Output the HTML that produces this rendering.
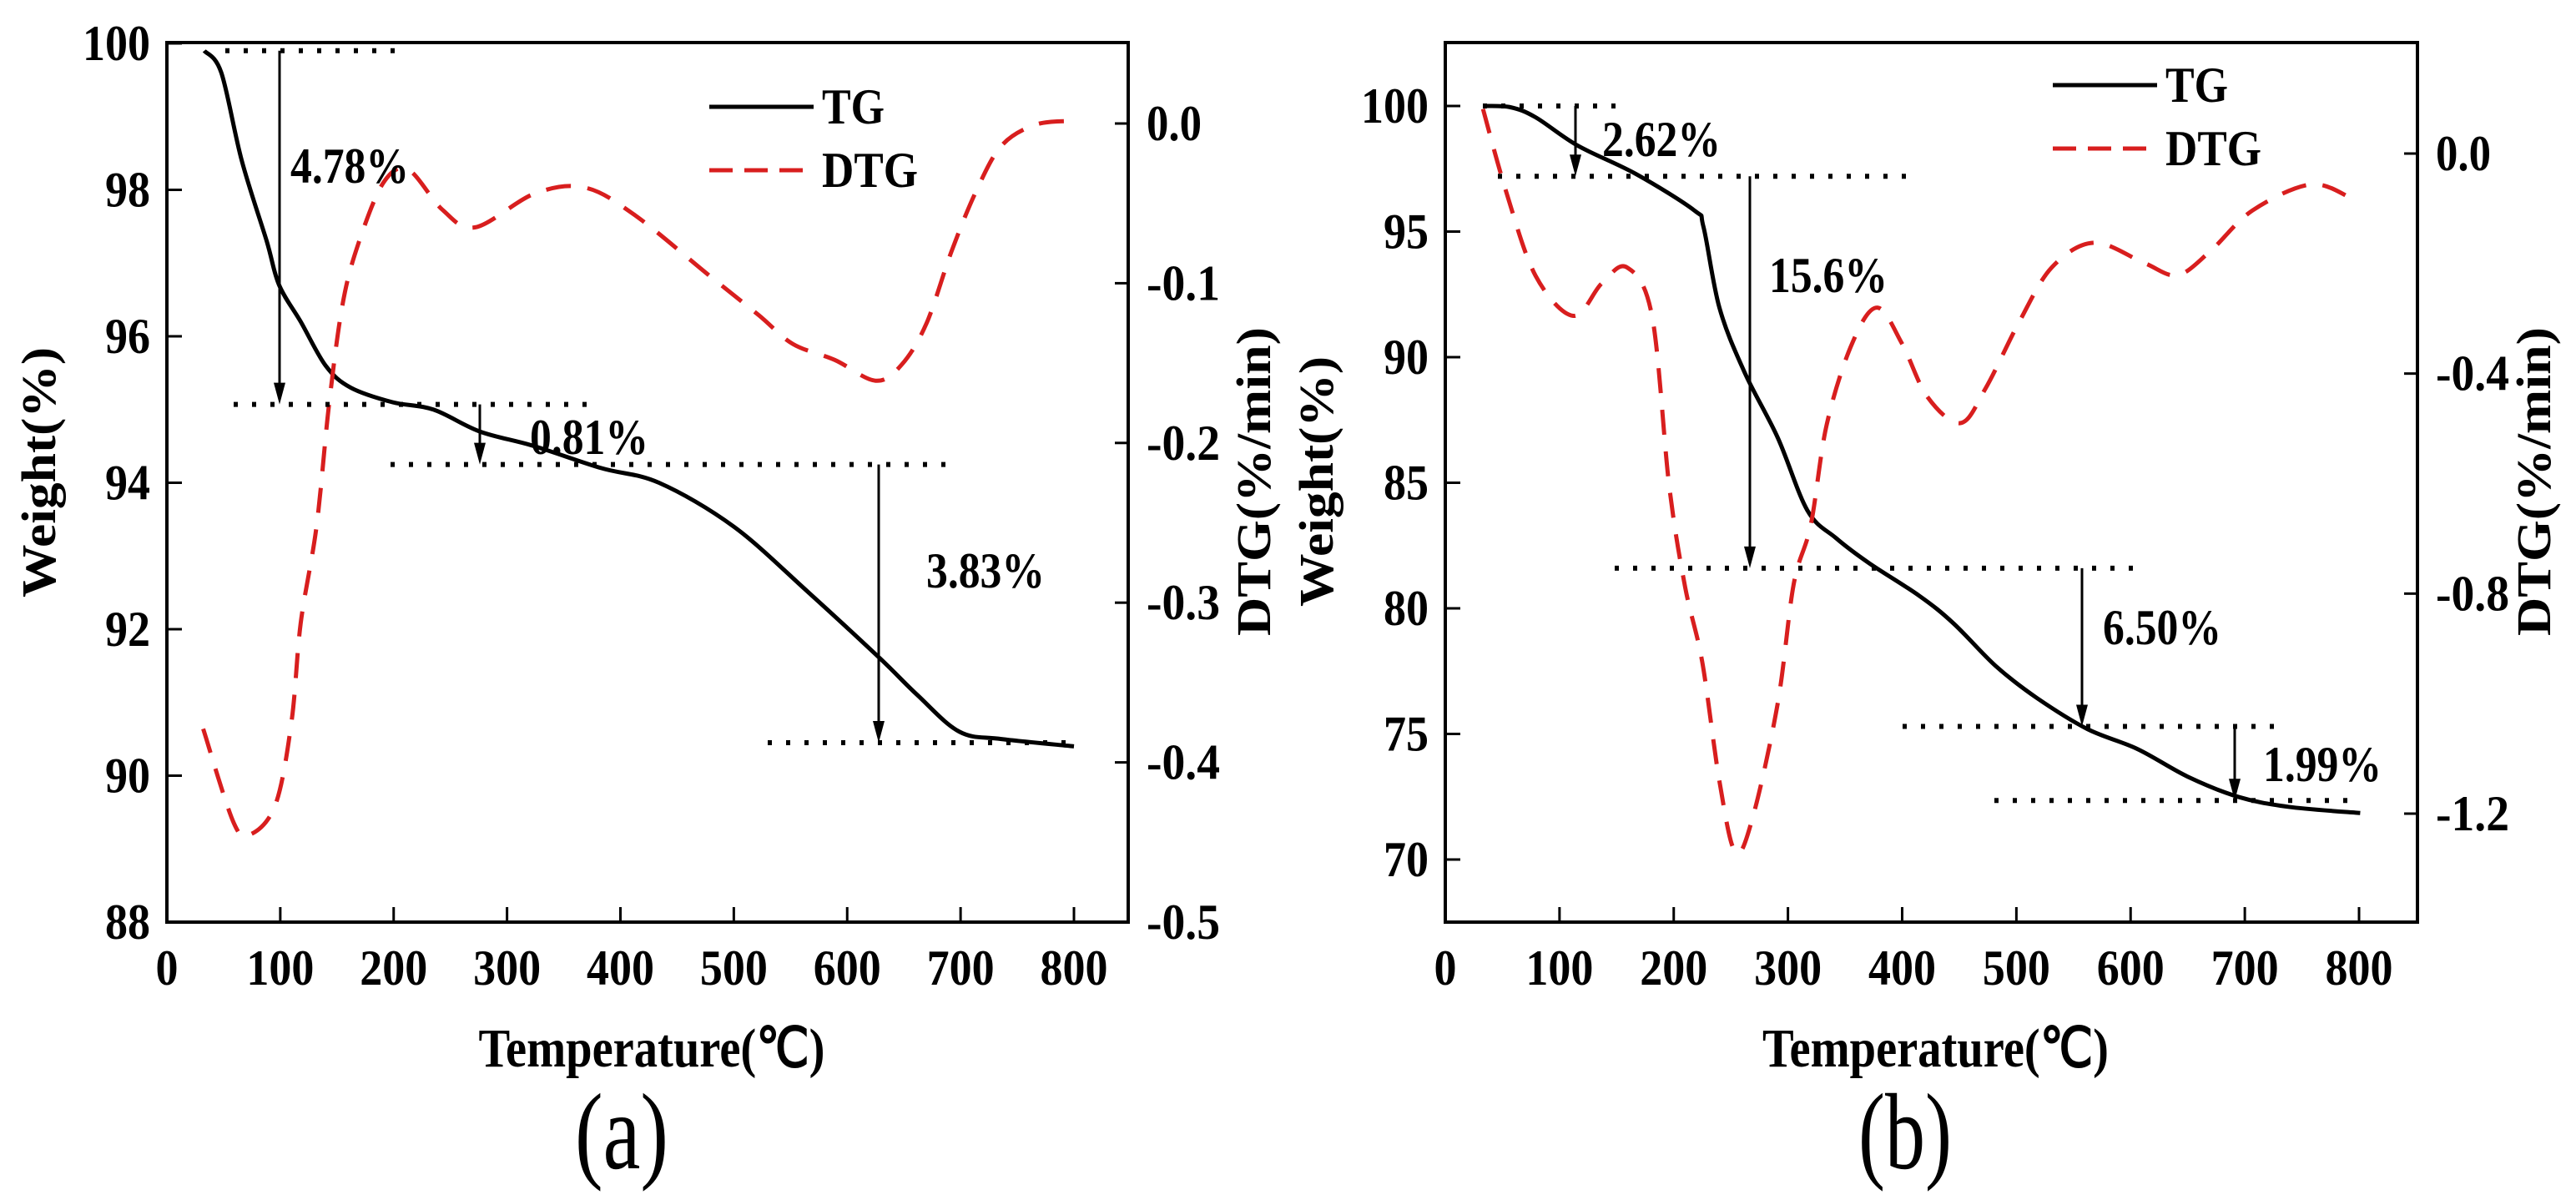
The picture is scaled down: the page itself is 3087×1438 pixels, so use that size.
<!DOCTYPE html>
<html><head><meta charset="utf-8"><style>
html,body{margin:0;padding:0;background:#fff;}
svg{display:block;}
text{font-family:"Liberation Serif",serif;}
</style></head><body>
<svg id="chart" width="3087" height="1438" viewBox="0 0 3087 1438" xmlns="http://www.w3.org/2000/svg"></svg>
<script>
// ---- Panel (a) data ----
const aTgT = [33,48,66,88,99,118,140,162,199,235,276,324,383,434,500,566,629,662,699,736,800];
const aTgW = [99.9,99.6,98.4,97.3,96.7,96.2,95.6,95.3,95.1,95.0,94.7,94.5,94.2,94.0,93.4,92.5,91.6,91.1,90.6,90.5,90.4];
const aDtgT = [32,59,74,96,110,118,132,143,155,169,191,213,243,272,324,368,412,478,522,552,589,625,648,670,692,714,736,765,795,802];
const aDtgV = [-0.379,-0.438,-0.445,-0.426,-0.374,-0.313,-0.252,-0.176,-0.113,-0.075,-0.037,-0.029,-0.054,-0.065,-0.044,-0.040,-0.057,-0.095,-0.120,-0.138,-0.148,-0.161,-0.151,-0.125,-0.080,-0.042,-0.014,-0.001,0.0015,0.0];
const aLeftTicks = [88,90,92,94,96,98,100];
const aRightTicks = [0.0,-0.1,-0.2,-0.3,-0.4,-0.5];
const aRightLabels = ["0.0","-0.1","-0.2","-0.3","-0.4","-0.5"];
const aLevels = [99.9,95.07,94.25,90.45];
const aLabels = ["4.78%","0.81%","3.83%"];
// ---- Panel (b) data ----
const bTgT = [33,57,79,116,167,218,226,240,262,291,317,342,371,415,445,482,518,562,606,650,694,738,801];
const bTgW = [100,99.95,99.55,98.42,97.29,95.84,95.2,91.97,89.4,86.8,83.9,82.8,81.8,80.5,79.4,77.7,76.43,75.2,74.4,73.3,72.5,72.1,71.85];
const bDtgT = [33,53,79,112,137,159,181,196,210,225,240,254,269,291,305,320,334,356,378,400,422,451,473,502,531,568,612,641,670,707,758,794];
const bDtgV = [0.081,-0.067,-0.222,-0.295,-0.236,-0.207,-0.295,-0.604,-0.788,-0.925,-1.141,-1.27,-1.208,-1.0,-0.783,-0.675,-0.492,-0.346,-0.28,-0.346,-0.442,-0.49,-0.427,-0.308,-0.207,-0.162,-0.199,-0.221,-0.177,-0.103,-0.056,-0.082];
const bLeftTicks = [70,75,80,85,90,95,100];
const bRightTicks = [0.0,-0.4,-0.8,-1.2];
const bRightLabels = ["0.0","-0.4","-0.8","-1.2"];
const bLevels = [100,97.2,81.6,75.3,72.35];
const bLabels = ["2.62%","15.6%","6.50%","1.99%"];
const xTicks = [0,100,200,300,400,500,600,700,800];

const NS = "http://www.w3.org/2000/svg";
const svg = document.getElementById('chart');
function el(tag, attrs, parent, txt){
  const e = document.createElementNS(NS, tag);
  for (const k in attrs) e.setAttribute(k, attrs[k]);
  if (txt !== undefined) e.textContent = txt;
  (parent||svg).appendChild(e);
  return e;
}
function lin(d0,d1,r0,r1){ return v => r0 + (v-d0)*(r1-r0)/(d1-d0); }
function smooth(pts){
  let d = 'M'+pts[0][0].toFixed(1)+','+pts[0][1].toFixed(1);
  for (let i=0;i<pts.length-1;i++){
    const p0=pts[Math.max(0,i-1)], p1=pts[i], p2=pts[i+1], p3=pts[Math.min(pts.length-1,i+2)];
    const c1x=p1[0]+(p2[0]-p0[0])/6, c1y=p1[1]+(p2[1]-p0[1])/6;
    const c2x=p2[0]-(p3[0]-p1[0])/6, c2y=p2[1]-(p3[1]-p1[1])/6;
    d += `C${c1x.toFixed(1)},${c1y.toFixed(1)} ${c2x.toFixed(1)},${c2y.toFixed(1)} ${p2[0].toFixed(1)},${p2[1].toFixed(1)}`;
  }
  return d;
}

function panel(cfg){
  const g = el('g', {});
  
  
  const X = lin(0,800,cfg.x0,cfg.x800);
  const YL = lin(cfg.l0v,cfg.l1v,cfg.l0y,cfg.l1y);
  const YR = lin(cfg.r0v,cfg.r1v,cfg.r0y,cfg.r1y);
  const L = cfg.left, R = cfg.right, T = 51, B = 1105;
  const fr = el('rect', {x:L,y:T,width:R-L,height:B-T,fill:'none',stroke:'#000','stroke-width':4}, g);
  
  
  xTicks.forEach(v=>{
    const x = X(v);
    if (v>0){ const t = el('line',{x1:x,x2:x,y1:B,y2:B-18,stroke:'#000','stroke-width':3},g);
        }
    const lb = el('text',{x:x,y:1180,'text-anchor':'middle','font-size':60,'font-weight':'bold',textLength:String(v).length*27,lengthAdjust:'spacingAndGlyphs'},g,String(v));
     
  });
  cfg.lTicks.forEach(v=>{
    const y = YL(v);
    const t = el('line',{x1:L,x2:L+18,y1:y,y2:y,stroke:'#000','stroke-width':3},g);
     
    const lb = el('text',{x:L-20,y:y+20,'text-anchor':'end','font-size':60,'font-weight':'bold',textLength:String(v).length*27,lengthAdjust:'spacingAndGlyphs'},g,String(v));
     
  });
  cfg.rTicks.forEach((v,i)=>{
    const y = YR(v);
    const t = el('line',{x1:R,x2:R-16,y1:y,y2:y,stroke:'#000','stroke-width':3},g);
     
    const s = cfg.rLabels[i];
    const lb = el('text',{x:R+22,y:y+20,'font-size':60,'font-weight':'bold',textLength:s.length*22,lengthAdjust:'spacingAndGlyphs'},g,s);
     
  });
  const xt = el('text',{x:(L+R)/2+5,y:1278,'text-anchor':'middle','font-size':66,'font-weight':'bold',textLength:415,lengthAdjust:'spacingAndGlyphs'},g,'Temperature(℃)');
   
  const yt = el('text',{x:0,y:0,'text-anchor':'middle','font-size':58,'font-weight':'bold',textLength:cfg.wLen,lengthAdjust:'spacingAndGlyphs',transform:`translate(${cfg.wX},${cfg.wY}) rotate(-90)`},g,'Weight(%)');
   
  const rt = el('text',{x:0,y:0,'text-anchor':'middle','font-size':58,'font-weight':'bold',textLength:370,lengthAdjust:'spacingAndGlyphs',transform:`translate(${cfg.dX},577) rotate(-90)`},g,'DTG(%/min)');
   
  const pl = el('text',{x:cfg.capX,y:1400,'text-anchor':'middle','font-size':130,textLength:112,lengthAdjust:'spacingAndGlyphs'},g,cfg.cap);
   
  const tg = el('path',{d:smooth(cfg.tgT.map((t,i)=>[X(t),YL(cfg.tgW[i])])),fill:'none',stroke:'#000','stroke-width':5,'stroke-linejoin':'round'},g);
   
  const dt = el('path',{d:smooth(cfg.dT.map((t,i)=>[X(t),YR(cfg.dV[i])])),fill:'none',stroke:'#d81e1e','stroke-width':5,'stroke-dasharray':'30 20'},g);
   
  const ly1 = cfg.legY, ly2 = cfg.legY+76;
  const l1 = el('line',{x1:cfg.legX,x2:cfg.legX+125,y1:ly1,y2:ly1,stroke:'#000','stroke-width':5},g);
   
  const l1t = el('text',{x:cfg.legX+135,y:ly1+20,'font-size':60,'font-weight':'bold',textLength:75,lengthAdjust:'spacingAndGlyphs'},g,'TG');
   
  const l2 = el('line',{x1:cfg.legX,x2:cfg.legX+115,y1:ly2,y2:ly2,stroke:'#d81e1e','stroke-width':5,'stroke-dasharray':'28 14'},g);
   
  const l2t = el('text',{x:cfg.legX+135,y:ly2+20,'font-size':60,'font-weight':'bold',textLength:115,lengthAdjust:'spacingAndGlyphs'},g,'DTG');
   
  cfg.dots.forEach(d=>{
    const y = YL(cfg.levels[d[2]]);
    const ln = el('line',{x1:d[0],x2:d[1],y1:y,y2:y,stroke:'#000','stroke-width':6,'stroke-dasharray':'5 17'},g);
     
  });
  cfg.arrows.forEach((a,i)=>{
    const y1 = YL(cfg.levels[i]), y2 = YL(cfg.levels[i+1]);
    const ln = el('line',{x1:a,x2:a,y1:y1,y2:y2-14,stroke:'#000','stroke-width':3},g);
     
    const hd = el('polygon',{points:`${a-7},${y2-26} ${a+7},${y2-26} ${a},${y2}`,fill:'#000'},g);
     
  });
  cfg.labs.forEach((p,i)=>{
    const tx = el('text',{x:p[0],y:p[1]+20,'font-size':60,'font-weight':'bold',textLength:142,lengthAdjust:'spacingAndGlyphs'},g,cfg.labels[i]);
     
  });
}

panel({name:'panel-a', left:200, right:1352, x0:200, x800:1287,
  l0v:88,l1v:100,l0y:1105,l1y:52, r0v:0,r1v:-0.5,r0y:148,r1y:1105,
  lTicks:aLeftTicks, rTicks:aRightTicks, rLabels:aRightLabels,
  tgT:aTgT,tgW:aTgW,dT:aDtgT,dV:aDtgV,
  wX:66,wY:566,wLen:300, dX:1522, cap:'(a)', capX:745,
  legX:850, legY:128,
  levels:aLevels, labels:aLabels,
  dots:[[270,490,0],[280,710,1],[468,1140,2],[920,1290,3]],
  arrows:[335,575,1053],
  labs:[[348,199],[635,524],[1110,684]]});

panel({name:'panel-b', left:1732, right:2897, x0:1732, x800:2827,
  l0v:70,l1v:100,l0y:1030,l1y:127, r0v:0,r1v:-1.2,r0y:184,r1y:975,
  lTicks:bLeftTicks, rTicks:bRightTicks, rLabels:bRightLabels,
  tgT:bTgT,tgW:bTgW,dT:bDtgT,dV:bDtgV,
  wX:1597,wY:577,wLen:300, dX:3056, cap:'(b)', capX:2283,
  legX:2460, legY:102,
  levels:bLevels, labels:bLabels,
  dots:[[1777,1945,0],[1795,2285,1],[1935,2560,2],[2280,2740,3],[2390,2830,4]],
  arrows:[1888,2097,2495,2678],
  labs:[[1920,167],[2120,330],[2520,752],[2712,916]]});
</script>
</body></html>
